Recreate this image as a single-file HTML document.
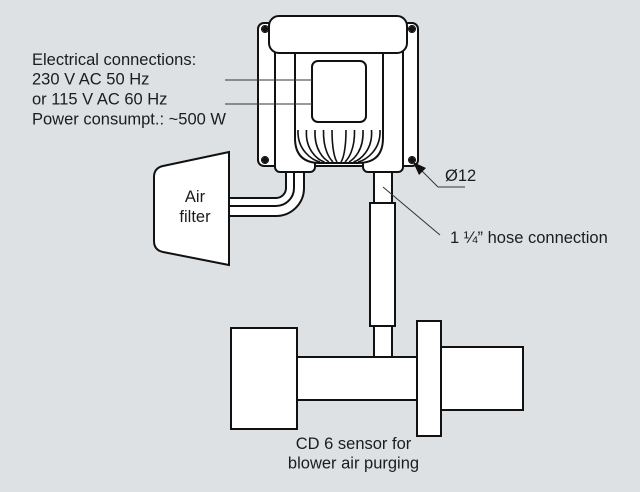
<!DOCTYPE html>
<html>
<head>
<meta charset="utf-8">
<style>
  html, body { margin: 0; padding: 0; background: #dde1e4; }
  svg { display: block; }
  text { font-family: "Liberation Sans", Arial, sans-serif; font-size: 16.5px; fill: #1c1c1c; }
</style>
</head>
<body>
<svg width="640" height="492" viewBox="0 0 640 492" xmlns="http://www.w3.org/2000/svg">
  <rect x="0" y="0" width="640" height="492" fill="#dde1e4"/>

  <!-- Left text -->
  <text x="32" y="65">Electrical connections:</text>
  <text x="32" y="84.5">230 V AC 50 Hz</text>
  <text x="32" y="104.5">or 115 V AC 60 Hz</text>
  <text x="32" y="124.3">Power consumpt.: ~500 W</text>

  <!-- Back plate -->
  <rect x="258" y="23" width="160" height="143" rx="6" ry="6" fill="#fff" stroke="#111" stroke-width="2"/>

  <!-- Left pipe (from filter) -->
  <path d="M229,198 L276,198 A10,10 0 0 0 286,188 L286,170 L304,170 L304,188 A28,28 0 0 1 276,216 L229,216 Z" fill="#fff" stroke="none"/>
  <path d="M229,198 L276,198 A10,10 0 0 0 286,188 L286,170" fill="none" stroke="#111" stroke-width="2"/>
  <path d="M229,206 L276,206 A18,18 0 0 0 294,188 L294,170" fill="none" stroke="#111" stroke-width="2"/>
  <path d="M229,216 L276,216 A28,28 0 0 0 304,188 L304,170" fill="none" stroke="#111" stroke-width="2"/>

  <!-- Right pipe segments -->
  <rect x="374" y="168" width="18" height="36" fill="#fff" stroke="#111" stroke-width="2"/>
  <rect x="374" y="320" width="18" height="38" fill="#fff" stroke="#111" stroke-width="2"/>
  <!-- Hose -->
  <rect x="370" y="203" width="25" height="123" fill="#fff" stroke="#111" stroke-width="2"/>

  <!-- Legs -->
  <rect x="275" y="40" width="40" height="132" rx="5" ry="5" fill="#fff" stroke="#111" stroke-width="2"/>
  <rect x="363" y="40" width="40" height="132" rx="5" ry="5" fill="#fff" stroke="#111" stroke-width="2"/>

  <!-- Body with bowl -->
  <path d="M295,40 L295,138 Q295,163 320,163 L358,163 Q383,163 383,138 L383,40" fill="#fff" stroke="#111" stroke-width="2"/>

  <!-- Fins -->
  <g fill="none" stroke="#111" stroke-width="1.6">
    <path d="M298,130 C297,150 312,160 320,162"/>
    <path d="M306.5,130 C305,150 318,160 324.5,162"/>
    <path d="M315,130 C314,150 324,159 329,162"/>
    <path d="M323.5,130 C323,150 330,159 333,162"/>
    <path d="M332,130 C332,150 335,159 337,162"/>
    <path d="M346,130 C346,150 343,159 341,162"/>
    <path d="M354.5,130 C355,150 348,159 345,162"/>
    <path d="M363,130 C364,150 354,159 349,162"/>
    <path d="M371.5,130 C373,150 360,160 353.5,162"/>
    <path d="M380,130 C381,150 366,160 358,162"/>
  </g>

  <!-- Cap -->
  <rect x="269" y="16" width="138" height="37" rx="10" ry="10" fill="#fff" stroke="#111" stroke-width="2"/>

  <!-- Electrical box -->
  <rect x="312" y="61" width="54" height="61" rx="6" ry="6" fill="#fff" stroke="#111" stroke-width="2"/>

  <!-- Screws -->
  <g>
    <circle cx="265" cy="29" r="3.5" fill="#fff" stroke="#111" stroke-width="1"/>
    <path d="M265,25 L269,29 L265,33 L261,29 Z" fill="#111"/>
    <circle cx="412" cy="29" r="3.5" fill="#fff" stroke="#111" stroke-width="1"/>
    <path d="M412,25 L416,29 L412,33 L408,29 Z" fill="#111"/>
    <circle cx="265" cy="160" r="3.5" fill="#fff" stroke="#111" stroke-width="1"/>
    <path d="M265,156 L269,160 L265,164 L261,160 Z" fill="#111"/>
    <circle cx="412" cy="160" r="3.5" fill="#fff" stroke="#111" stroke-width="1"/>
    <path d="M412,156 L416,160 L412,164 L408,160 Z" fill="#111"/>
  </g>

  <!-- Leaders to electrical box -->
  <line x1="225" y1="80" x2="312" y2="80" stroke="#333" stroke-width="1"/>
  <line x1="225" y1="104" x2="312" y2="104" stroke="#333" stroke-width="1"/>

  <!-- Air filter -->
  <path d="M229,152 L229,265 L163,252 Q154,250 154,241 L154,177 Q154,168 163,166 Z" fill="#fff" stroke="#111" stroke-width="2"/>
  <text x="195" y="202" text-anchor="middle">Air</text>
  <text x="195" y="222" text-anchor="middle">filter</text>

  <!-- Ø12 leader -->
  <line x1="420" y1="169" x2="438" y2="187" stroke="#333" stroke-width="1"/>
  <line x1="438" y1="187" x2="465" y2="187" stroke="#333" stroke-width="1"/>
  <path d="M413,162 L426,168 L419,175 Z" fill="#111"/>
  <text x="445" y="181">Ø12</text>

  <!-- Hose leader -->
  <line x1="383" y1="187" x2="440" y2="235" stroke="#333" stroke-width="1"/>
  <text x="450" y="243">1 ¼” hose connection</text>

  <!-- Sensor -->
  <rect x="231" y="328" width="66" height="101" fill="#fff" stroke="#111" stroke-width="2"/>
  <rect x="297" y="357" width="120" height="43" fill="#fff" stroke="#111" stroke-width="2"/>
  <rect x="441" y="347" width="82" height="63" fill="#fff" stroke="#111" stroke-width="2"/>
  <rect x="417" y="321" width="24" height="115" fill="#fff" stroke="#111" stroke-width="2"/>

  <text x="353.5" y="449" text-anchor="middle">CD 6 sensor for</text>
  <text x="353.5" y="468.5" text-anchor="middle">blower air purging</text>
</svg>
</body>
</html>
